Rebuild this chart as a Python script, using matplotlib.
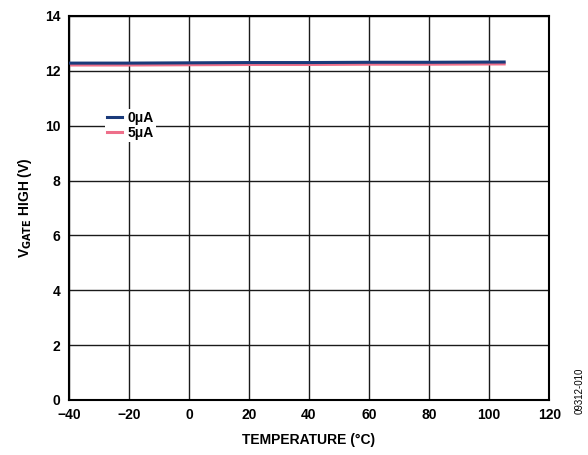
import matplotlib
matplotlib.use("Agg")
import matplotlib.pyplot as plt

temperature = [-40, -20, 0, 20, 40, 60, 80, 105]
vgate_0uA = [12.28, 12.28, 12.29, 12.30, 12.30, 12.31, 12.31, 12.32]
vgate_5uA = [12.21, 12.21, 12.22, 12.23, 12.23, 12.24, 12.24, 12.25]
x_ticks = [-40, -20, 0, 20, 40, 60, 80, 100, 120]
x_labels = ["\u221240", "\u221220", "0", "20", "40", "60", "80", "100", "120"]
y_ticks = [0, 2, 4, 6, 8, 10, 12, 14]

plt.rcParams['font.family'] = ['Liberation Sans', 'DejaVu Sans']
plt.rcParams['font.weight'] = 'bold'

fig = plt.figure(figsize=(5.88, 4.55), dpi=100)
ax = fig.add_axes([0.117, 0.121, 0.817, 0.844])

ax.plot(temperature, vgate_0uA, color='#1a3a7a', lw=2.2, label='0\u03bcA', zorder=3)
ax.plot(temperature, vgate_5uA, color='#ee6f8a', lw=2.2, label='5\u03bcA', zorder=2)

ax.set_xlim(-40, 120)
ax.set_ylim(0, 14)
ax.set_xticks(x_ticks)
ax.set_xticklabels(x_labels)
ax.set_yticks(y_ticks)
ax.grid(True, color='#1a1a1a', lw=1.0)
ax.set_axisbelow(True)
for s in ax.spines.values():
    s.set_linewidth(1.5)
ax.tick_params(length=0, labelsize=10, pad=6)
for lbl in ax.get_xticklabels() + ax.get_yticklabels():
    lbl.set_fontweight('bold')

ax.set_xlabel('TEMPERATURE (\u00b0C)', fontsize=10, fontweight='bold', labelpad=8)
ax.set_ylabel(r'V$_{\mathbf{GATE}}$ HIGH (V)', fontsize=10, fontweight='bold', labelpad=8)

leg = ax.legend(loc='upper left', bbox_to_anchor=(0.075, 0.758), frameon=True,
                fontsize=10, handlelength=1.1, handletextpad=0.4,
                borderpad=0.15, labelspacing=0.08, borderaxespad=0)
leg.get_frame().set_edgecolor('none')
leg.get_frame().set_facecolor('white')
leg.get_frame().set_alpha(1)
for t in leg.get_texts():
    t.set_fontweight('bold')

fig.text(0.985, 0.14, '09312-010', rotation=90, fontsize=7, fontweight='normal',
         ha='center', va='center')

fig.savefig('out.png', dpi=100)
